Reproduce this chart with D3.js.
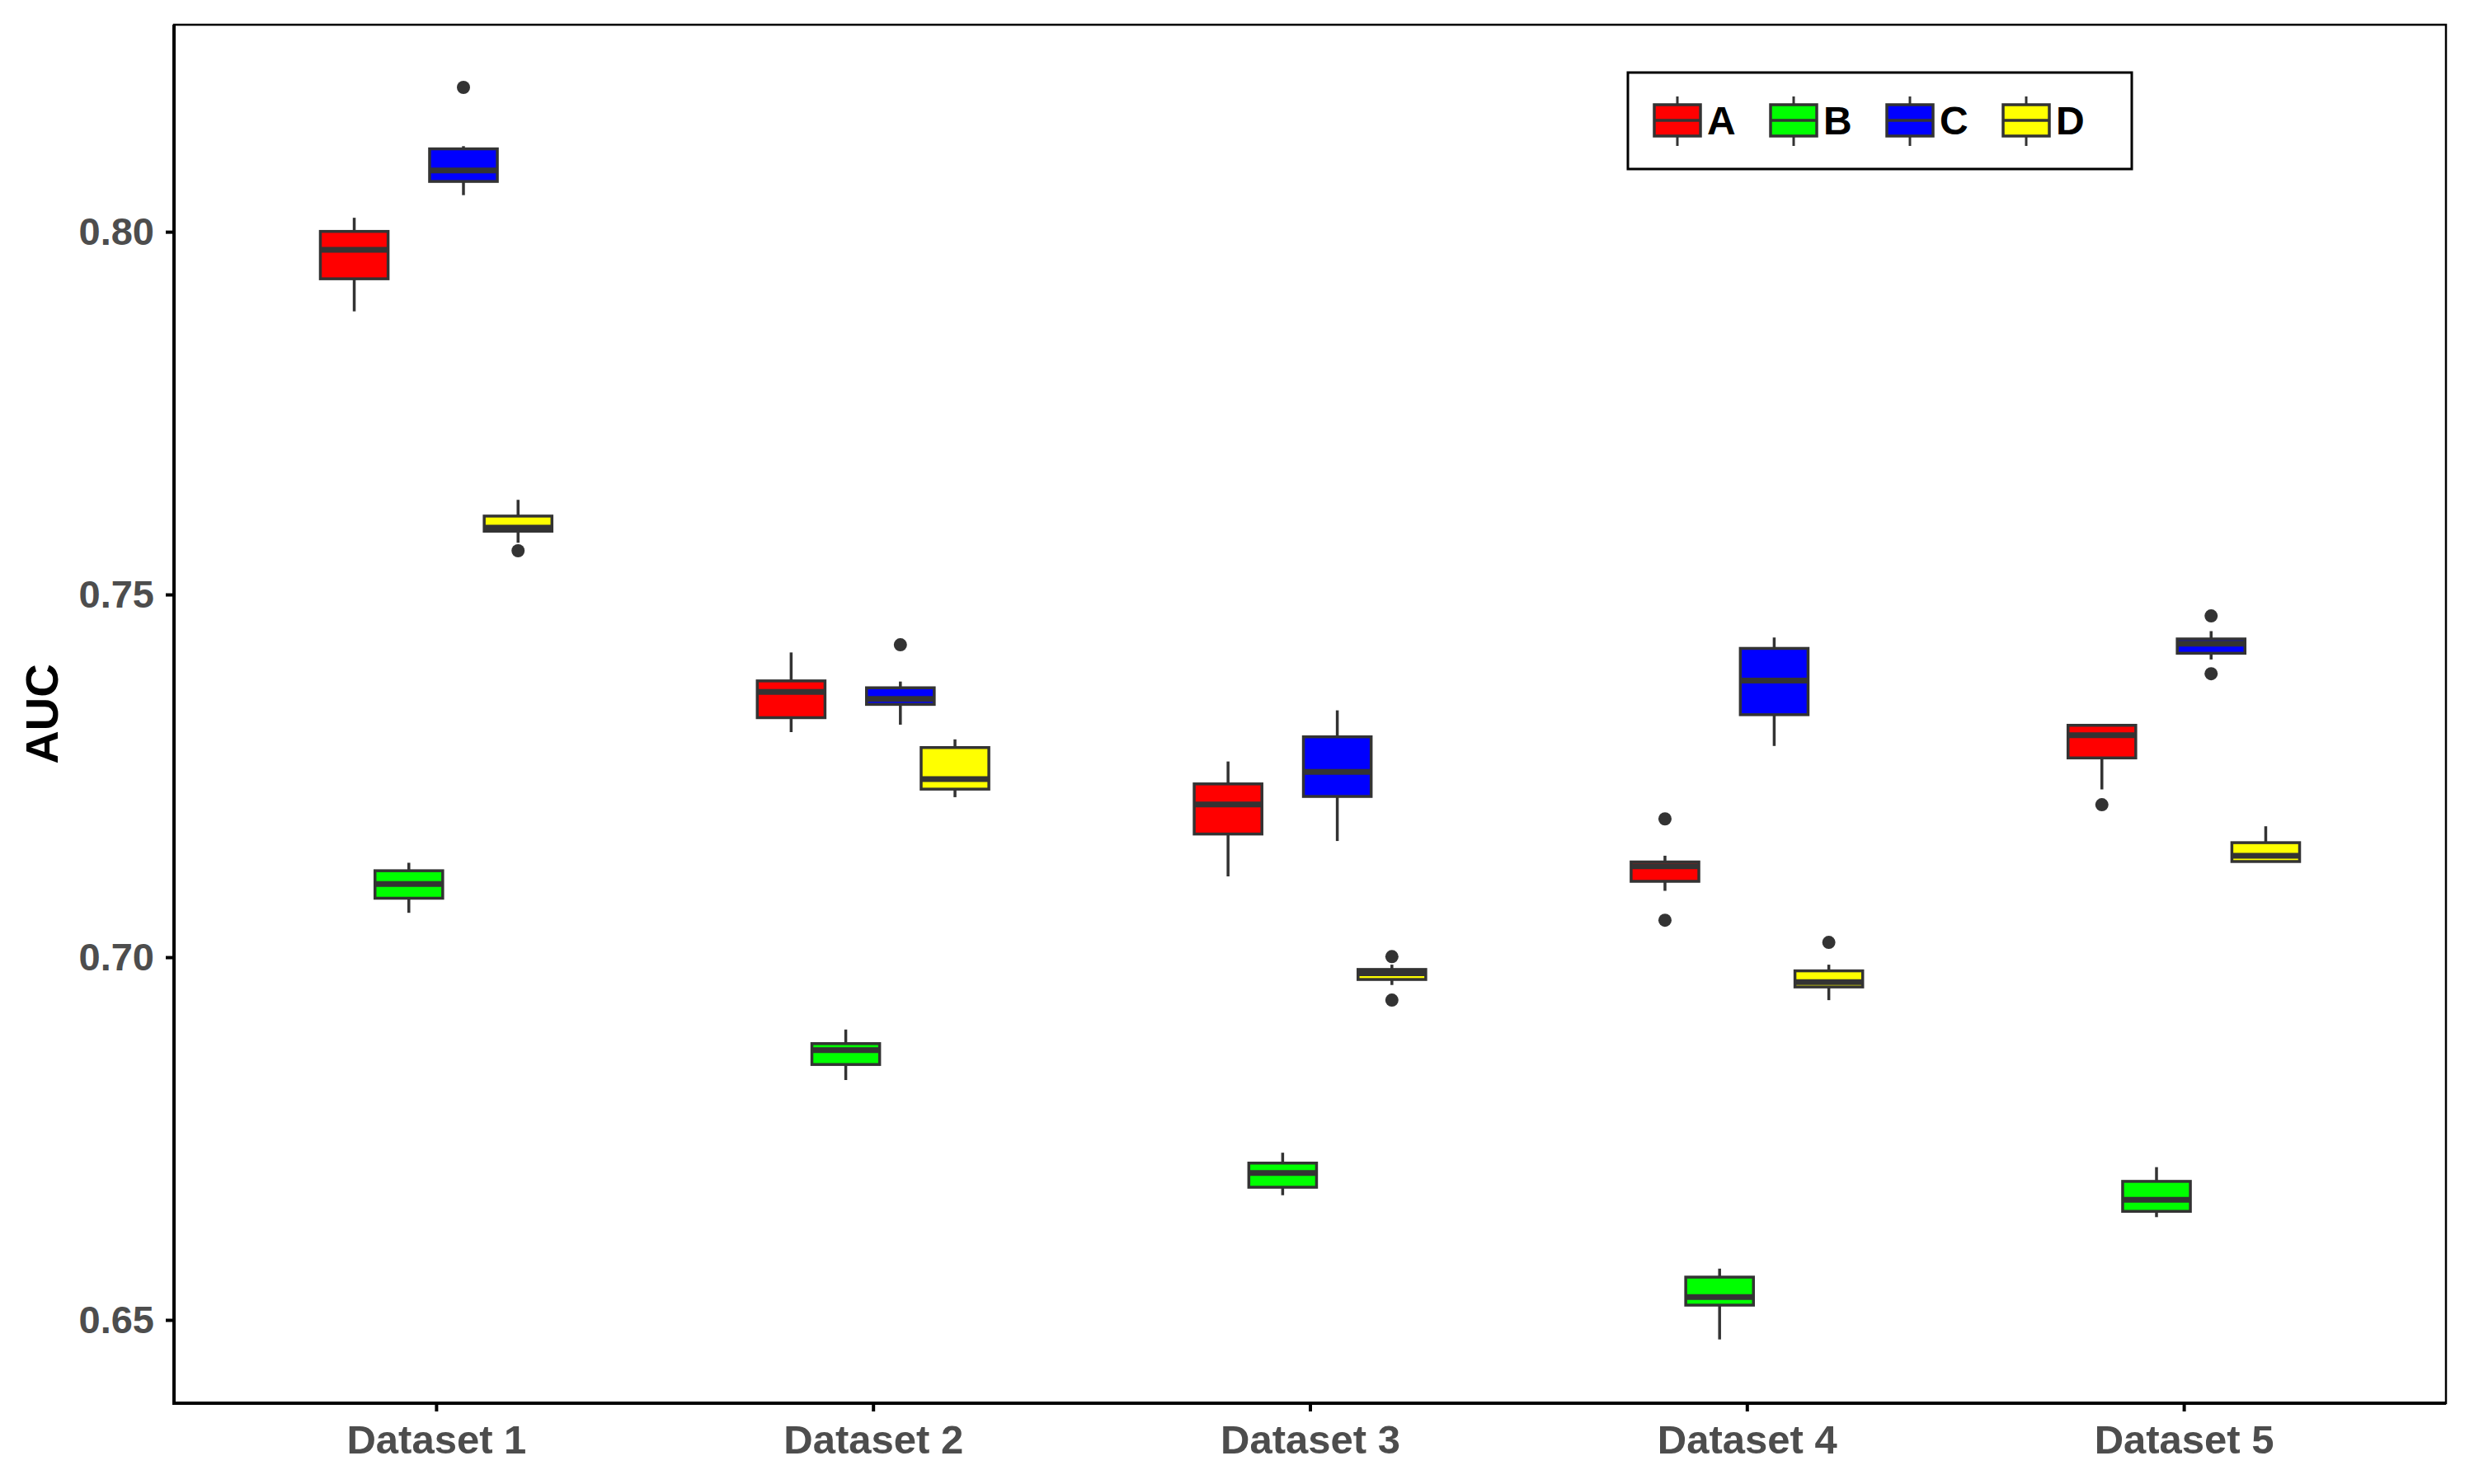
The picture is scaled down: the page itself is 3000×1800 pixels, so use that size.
<!DOCTYPE html>
<html>
<head>
<meta charset="utf-8">
<script src="https://cdn.jsdelivr.net/npm/d3@7"></script>
<style>
  html, body { margin: 0; padding: 0; background: #fff; }
  svg { display: block; }
</style>
</head>
<body>
<svg id="chart" width="3000" height="1800"></svg>
<script>
// ---------- DATA ----------
const categories = ["Dataset 1", "Dataset 2", "Dataset 3", "Dataset 4", "Dataset 5"];
const seriesNames = ["A", "B", "C", "D"];
const seriesColors = ["#FF0000", "#00FF00", "#0000FF", "#FFFF00"];
const yTicks = [0.65, 0.70, 0.75, 0.80];

// [lower whisker, Q1, median, Q3, upper whisker] per dataset
const statsA = [
  [0.78903, 0.79352, 0.79750, 0.80005, 0.80193],
  [0.73103, 0.73302, 0.73657, 0.73809, 0.74201],
  [0.71114, 0.71698, 0.72105, 0.72389, 0.72698],
  [0.70915, 0.71046, 0.71254, 0.71313, 0.71399],
  [0.72313, 0.72747, 0.73059, 0.73197, 0.73197]
];
const statsB = [
  [0.70612, 0.70813, 0.71010, 0.71192, 0.71302],
  [0.68307, 0.68521, 0.68718, 0.68809, 0.69003],
  [0.66719, 0.66829, 0.67025, 0.67162, 0.67305],
  [0.64731, 0.65204, 0.65314, 0.65590, 0.65707],
  [0.66417, 0.66497, 0.66656, 0.66910, 0.67106]
];
const statsC = [
  [0.80505, 0.80694, 0.80846, 0.81143, 0.81180],
  [0.73205, 0.73485, 0.73561, 0.73714, 0.73800],
  [0.71602, 0.72216, 0.72556, 0.73038, 0.73403],
  [0.72912, 0.73343, 0.73814, 0.74257, 0.74407],
  [0.74104, 0.74190, 0.74321, 0.74387, 0.74495]
];
const statsD = [
  [0.75713, 0.75872, 0.75921, 0.76081, 0.76305],
  [0.72206, 0.72317, 0.72455, 0.72890, 0.73003],
  [0.69617, 0.69693, 0.69780, 0.69831, 0.69897],
  [0.69408, 0.69590, 0.69656, 0.69812, 0.69897],
  [0.71319, 0.71319, 0.71399, 0.71579, 0.71805]
];
// outliers per dataset
const outliersA = [[], [], [], [0.71907, 0.70510], [0.72102]];
const outliersB = [[], [], [], [], []];
const outliersC = [[0.81990], [0.74307], [], [], [0.74705, 0.73908]];
const outliersD = [[0.75603], [], [0.70008, 0.69409], [0.70204], []];

const allStats = [statsA, statsB, statsC, statsD];
const allOutliers = [outliersA, outliersB, outliersC, outliersD];

// ---------- LAYOUT ----------
const svg = d3.select("#chart");
const panel = { left: 211, right: 2966, top: 30, bottom: 1702 };
const boxStroke = "#333333";
const fontFam = "'Liberation Sans', Arial, Helvetica, sans-serif";

const x = d3.scalePoint().domain(categories).range([panel.left, panel.right]).padding(0.6);
const step = x.step();
const dodge = d3.scalePoint().domain(seriesNames).range([-0.1875 * step, 0.1875 * step]);
const boxW = 0.155 * step;

const y = d3.scaleLinear().domain([0.63852, 0.82854]).range([panel.bottom, panel.top]);

// panel border
svg.append("rect")
  .attr("x", panel.left).attr("y", panel.top)
  .attr("width", panel.right - panel.left).attr("height", panel.bottom - panel.top)
  .attr("fill", "none").attr("stroke", "#000").attr("stroke-width", 2.5);

// boxes
const g = svg.append("g");
seriesNames.forEach((s, si) => {
  categories.forEach((c, ci) => {
    const [lo, q1, med, q3, hi] = allStats[si][ci];
    const cx = x(c) + dodge(s);
    const gg = g.append("g");
    gg.append("line").attr("x1", cx).attr("x2", cx).attr("y1", y(hi)).attr("y2", y(q3))
      .attr("stroke", boxStroke).attr("stroke-width", 3.5);
    gg.append("line").attr("x1", cx).attr("x2", cx).attr("y1", y(q1)).attr("y2", y(lo))
      .attr("stroke", boxStroke).attr("stroke-width", 3.5);
    gg.append("rect").attr("x", cx - boxW / 2).attr("y", y(q3))
      .attr("width", boxW).attr("height", Math.max(0.5, y(q1) - y(q3)))
      .attr("fill", seriesColors[si]).attr("stroke", boxStroke).attr("stroke-width", 3.5);
    gg.append("line").attr("x1", cx - boxW / 2).attr("x2", cx + boxW / 2)
      .attr("y1", y(med)).attr("y2", y(med))
      .attr("stroke", boxStroke).attr("stroke-width", 7);
    allOutliers[si][ci].forEach(o => {
      gg.append("circle").attr("cx", cx).attr("cy", y(o)).attr("r", 8).attr("fill", boxStroke);
    });
  });
});

// axes
const yAxis = d3.axisLeft(y).tickValues(yTicks).tickFormat(d3.format(".2f")).tickSize(10).tickPadding(14);
const ya = svg.append("g").attr("transform", `translate(${panel.left},0)`).call(yAxis);
ya.select(".domain").remove();
ya.selectAll(".tick line").attr("stroke", "#000").attr("stroke-width", 4);
ya.selectAll(".tick text").attr("fill", "#4D4D4D").attr("font-family", fontFam)
  .attr("font-weight", "bold").attr("font-size", 47);

const xAxis = d3.axisBottom(x).tickSize(10).tickPadding(16);
const xa = svg.append("g").attr("transform", `translate(0,${panel.bottom})`).call(xAxis);
xa.select(".domain").remove();
xa.selectAll(".tick line").attr("stroke", "#000").attr("stroke-width", 4);
xa.selectAll(".tick text").attr("fill", "#4D4D4D").attr("font-family", fontFam)
  .attr("font-weight", "bold").attr("font-size", 49);

// thick axis lines
svg.append("line").attr("x1", panel.left).attr("x2", panel.left)
  .attr("y1", panel.top).attr("y2", panel.bottom + 2).attr("stroke", "#000").attr("stroke-width", 4);
svg.append("line").attr("x1", panel.left - 2).attr("x2", panel.right)
  .attr("y1", panel.bottom).attr("y2", panel.bottom).attr("stroke", "#000").attr("stroke-width", 4);

// y title
svg.append("text")
  .attr("transform", `translate(70,${(panel.top + panel.bottom) / 2}) rotate(-90)`)
  .attr("text-anchor", "middle")
  .attr("font-family", fontFam).attr("font-weight", "bold").attr("font-size", 56)
  .attr("fill", "#000").text("AUC");

// legend
const leg = svg.append("g");
leg.append("rect").attr("x", 1974).attr("y", 88).attr("width", 611).attr("height", 117)
  .attr("fill", "#fff").attr("stroke", "#000").attr("stroke-width", 3);
seriesNames.forEach((s, si) => {
  const kx = 2006 + si * 141;
  const kw = 56, ky = 127, kh = 38;
  const mx = kx + kw / 2;
  leg.append("line").attr("x1", mx).attr("x2", mx).attr("y1", 117).attr("y2", 177)
    .attr("stroke", boxStroke).attr("stroke-width", 3);
  leg.append("rect").attr("x", kx).attr("y", ky).attr("width", kw).attr("height", kh)
    .attr("fill", seriesColors[si]).attr("stroke", boxStroke).attr("stroke-width", 3.5);
  leg.append("line").attr("x1", kx).attr("x2", kx + kw).attr("y1", ky + kh / 2).attr("y2", ky + kh / 2)
    .attr("stroke", boxStroke).attr("stroke-width", 3.5);
  leg.append("text").attr("x", kx + kw + 8).attr("y", ky + kh / 2)
    .attr("dominant-baseline", "central")
    .attr("font-family", fontFam).attr("font-weight", "bold").attr("font-size", 48)
    .attr("fill", "#000").text(s);
});
</script>
</body>
</html>
